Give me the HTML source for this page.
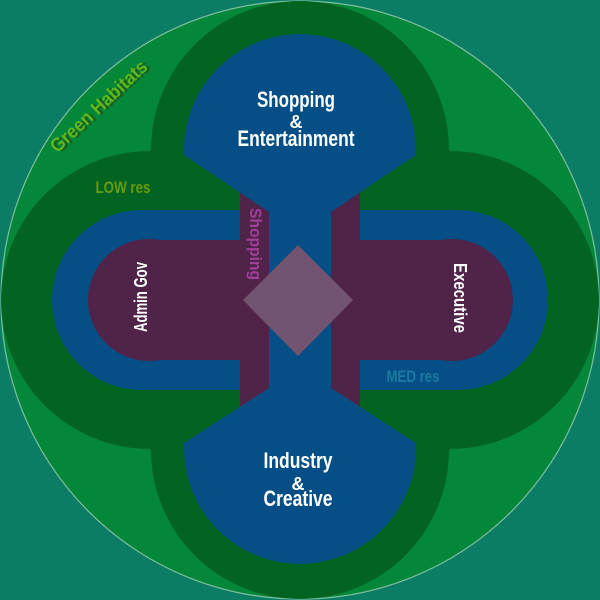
<!DOCTYPE html>
<html><head><style>body{margin:0;background:#0b7d65}svg{display:block}
text{font-family:"Liberation Sans Narrow","Liberation Sans",sans-serif;font-weight:bold}</style></head>
<body>
<svg width="600" height="600" viewBox="0 0 600 600" xmlns="http://www.w3.org/2000/svg">
<rect width="600" height="600" fill="#0b7d65"/>
<circle cx="300" cy="300" r="299" fill="#05873a" stroke="#7fbf9f" stroke-width="1.2"/>
<g fill="#036422">
<circle cx="300" cy="150" r="149"/>
<circle cx="300" cy="450" r="149"/>
<circle cx="150" cy="300" r="149"/>
<circle cx="450" cy="300" r="149"/>
<rect x="150" y="150" width="300" height="300"/>
</g>
<g fill="#054f86">
<circle cx="142" cy="300" r="90"/>
<circle cx="458" cy="300" r="90"/>
<rect x="142" y="210" width="316" height="180"/>
</g>
<g fill="#4f2448">
<circle cx="149" cy="300" r="61"/>
<circle cx="452" cy="300" r="61"/>
<rect x="149" y="240" width="303" height="120"/>
<rect x="240" y="185" width="30" height="230"/>
<rect x="330" y="185" width="30" height="230"/>
</g>
<path fill="#054f86" d="M184.1,155 A116,116 0 1 1 415.9,155 L331,212 L331,388 L415.9,443 A116,116 0 1 1 184.1,443 L269,388 L269,212 Z"/>
<polygon points="298,245 353,300 298,356 243,300" fill="#725470"/>
<g fill="#fff" text-anchor="middle" font-size="22">
<text x="296" y="107" textLength="78" lengthAdjust="spacingAndGlyphs">Shopping</text>
<text x="296" y="128" font-size="18">&amp;</text>
<text x="296" y="146" textLength="117" lengthAdjust="spacingAndGlyphs">Entertainment</text>
<text x="298" y="468" textLength="69" lengthAdjust="spacingAndGlyphs">Industry</text>
<text x="298" y="490" font-size="18">&amp;</text>
<text x="298" y="506" textLength="69" lengthAdjust="spacingAndGlyphs">Creative</text>
<text transform="translate(147,297) rotate(-90)" font-size="18" textLength="70" lengthAdjust="spacingAndGlyphs">Admin Gov</text>
<text transform="translate(454,298) rotate(90)" font-size="18" textLength="70" lengthAdjust="spacingAndGlyphs">Executive</text>
</g>
<text transform="translate(250,244) rotate(90)" text-anchor="middle" font-size="17" fill="#a0409a" textLength="72" lengthAdjust="spacingAndGlyphs">Shopping</text>
<text x="123" y="193" text-anchor="middle" font-size="17" fill="#6a9a12" textLength="55" lengthAdjust="spacingAndGlyphs">LOW res</text>
<text x="413" y="382" text-anchor="middle" font-size="17" fill="#1a7aa0" textLength="53" lengthAdjust="spacingAndGlyphs">MED res</text>
<text transform="translate(103,111) rotate(-43)" text-anchor="middle" font-size="19" fill="#1e5a1a" x="2" y="2" textLength="125" lengthAdjust="spacingAndGlyphs">Green Habitats</text>
<text transform="translate(103,111) rotate(-43)" text-anchor="middle" font-size="19" fill="#5cb820" textLength="125" lengthAdjust="spacingAndGlyphs">Green Habitats</text>
</svg>
</body></html>
